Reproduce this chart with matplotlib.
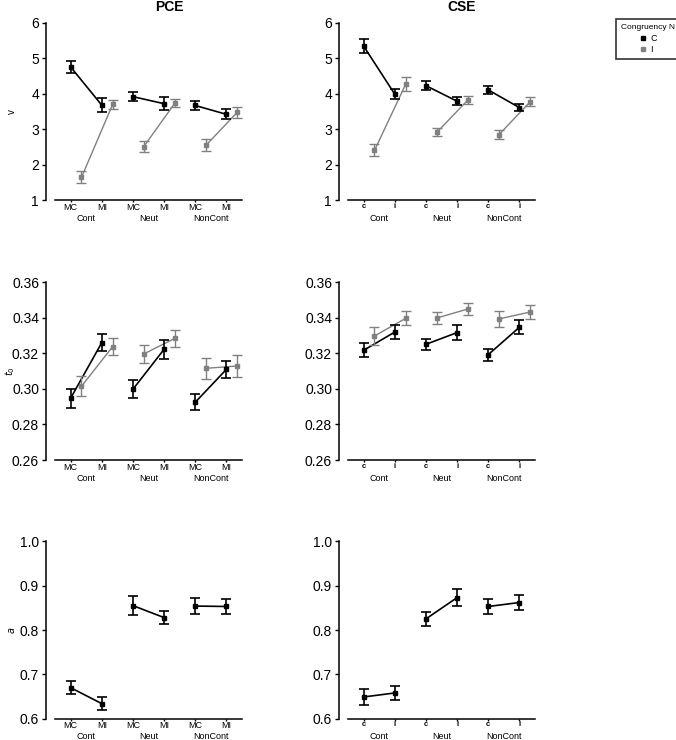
import matplotlib
matplotlib.use('Agg')
from matplotlib import pyplot as plt
from matplotlib.lines import Line2D
from matplotlib.transforms import blended_transform_factory
import numpy as np

plt.rcParams['font.family'] = ['Liberation Sans', 'DejaVu Sans']

groups = ['Cont', 'Neut', 'NonCont']
pce_levels = ['MC', 'MI']
cse_levels = ['c', 'i']
legend_title = 'Congruency N'
legend_labels = ['C', 'I']

# order: Cont-1, Cont-2, Neut-1, Neut-2, NonCont-1, NonCont-2
pce_v_c = [4.76, 3.68, 3.92, 3.72, 3.67, 3.42]
pce_v_c_err = [0.17, 0.20, 0.12, 0.19, 0.12, 0.14]
pce_v_i = [1.64, 3.70, 2.51, 3.74, 2.55, 3.48]
pce_v_i_err = [0.17, 0.13, 0.15, 0.12, 0.17, 0.15]

cse_v_c = [5.35, 3.99, 4.23, 3.79, 4.11, 3.61]
cse_v_c_err = [0.21, 0.14, 0.13, 0.11, 0.12, 0.11]
cse_v_i = [2.40, 4.27, 2.91, 3.83, 2.85, 3.78]
cse_v_i_err = [0.17, 0.20, 0.11, 0.11, 0.12, 0.13]

pce_t0_c = [0.2947, 0.3260, 0.2998, 0.3223, 0.2925, 0.3110]
pce_t0_c_err = [0.0052, 0.0049, 0.0050, 0.0054, 0.0044, 0.0047]
pce_t0_i = [0.3015, 0.3238, 0.3197, 0.3285, 0.3116, 0.3129]
pce_t0_i_err = [0.0057, 0.0046, 0.0050, 0.0049, 0.0060, 0.0060]

cse_t0_c = [0.3217, 0.3320, 0.3251, 0.3317, 0.3193, 0.3347]
cse_t0_c_err = [0.0040, 0.0040, 0.0032, 0.0040, 0.0034, 0.0040]
cse_t0_i = [0.3298, 0.3397, 0.3399, 0.3450, 0.3394, 0.3433]
cse_t0_i_err = [0.0050, 0.0039, 0.0032, 0.0032, 0.0043, 0.0040]

pce_a_c = [0.670, 0.634, 0.855, 0.828, 0.854, 0.853]
pce_a_c_err = [0.014, 0.015, 0.022, 0.015, 0.019, 0.018]
cse_a_c = [0.649, 0.658, 0.825, 0.873, 0.853, 0.862]
cse_a_c_err = [0.017, 0.015, 0.015, 0.020, 0.017, 0.017]

v_ticks = [1, 2, 3, 4, 5, 6]
t0_ticks = [0.26, 0.28, 0.30, 0.32, 0.34, 0.36]
a_ticks = [0.6, 0.7, 0.8, 0.9, 1.0]

W, H = 676, 740
black = '#000000'
grey = '#808080'
grey_offset = 0.35


def px_axes(fig, x0, x1, y0, y1):
    # pixel box (from top-left) -> figure axes
    return fig.add_axes([x0 / W, 1 - y1 / H, (x1 - x0) / W, (y1 - y0) / H])


def draw_series(ax, means, errs, color, dx, ms, lw, cap):
    x = np.arange(len(means)) + dx
    means = np.array(means)
    for g in range(3):
        sl = slice(2 * g, 2 * g + 2)
        ax.plot(x[sl], means[sl], color=color, lw=lw, zorder=2)
    ax.errorbar(x, means, yerr=errs, fmt='s', color=color, ms=ms, lw=lw,
                capsize=cap, capthick=lw, zorder=3)


def style_panel(ax, ticks, fmt, levels, ylabel, bold_levels):
    ax.set_xlim(-0.5, 5.5)
    ax.set_ylim(ticks[0], ticks[-1])
    ax.set_yticks(ticks)
    ax.set_yticklabels([fmt.format(t) for t in ticks], fontsize=6)
    ax.set_xticks(range(6))
    ax.set_xticklabels(levels * 3, fontsize=6.5 if not bold_levels else 5.5,
                       fontweight='bold' if bold_levels else 'normal')
    for s in ['top', 'right']:
        ax.spines[s].set_visible(False)
    ax.spines['left'].set_position(('outward', 6.5))
    ax.spines['left'].set_linewidth(1.1)
    ax.spines['bottom'].set_linewidth(1.1)
    ax.tick_params(axis='y', length=3, width=1, pad=2)
    ax.tick_params(axis='x', length=1.5, width=1, pad=0.5)
    trans = blended_transform_factory(ax.transData, ax.transAxes)
    for g, name in enumerate(groups):
        ax.annotate(name, xy=(2 * g + 0.5, 0), xycoords=trans,
                    xytext=(0, -13), textcoords='offset points',
                    ha='center', va='center', fontsize=6.5)
    if ylabel is not None:
        ax.set_ylabel(ylabel, fontsize=7)
        ax.yaxis.set_label_coords(-0.205, 0.5)


fig = plt.figure(figsize=(W / 100, H / 100), dpi=100)

rows = [(23, 200), (282.3, 460), (541.3, 718.7)]
cols = [(55, 242), (348, 535)]

# row 1: v
ax = px_axes(fig, cols[0][0], cols[0][1], *rows[0])
draw_series(ax, pce_v_c, pce_v_c_err, black, 0, 3.2, 1.2, 3.6)
draw_series(ax, pce_v_i, pce_v_i_err, grey, grey_offset, 2.5, 1.0, 3.6)
style_panel(ax, v_ticks, '{:d}', pce_levels, 'v', False)

ax = px_axes(fig, cols[1][0], cols[1][1], *rows[0])
draw_series(ax, cse_v_c, cse_v_c_err, black, 0, 3.2, 1.2, 3.6)
draw_series(ax, cse_v_i, cse_v_i_err, grey, grey_offset, 2.5, 1.0, 3.6)
style_panel(ax, v_ticks, '{:d}', cse_levels, None, True)

# row 2: t0
ax = px_axes(fig, cols[0][0], cols[0][1], *rows[1])
draw_series(ax, pce_t0_c, pce_t0_c_err, black, 0, 3.2, 1.2, 3.6)
draw_series(ax, pce_t0_i, pce_t0_i_err, grey, grey_offset, 2.5, 1.0, 3.6)
style_panel(ax, t0_ticks, '{:.2f}', pce_levels, '$t_0$', False)

ax = px_axes(fig, cols[1][0], cols[1][1], *rows[1])
draw_series(ax, cse_t0_c, cse_t0_c_err, black, 0, 3.2, 1.2, 3.6)
draw_series(ax, cse_t0_i, cse_t0_i_err, grey, grey_offset, 2.5, 1.0, 3.6)
style_panel(ax, t0_ticks, '{:.2f}', cse_levels, None, True)

# row 3: a
ax = px_axes(fig, cols[0][0], cols[0][1], *rows[2])
draw_series(ax, pce_a_c, pce_a_c_err, black, 0, 3.2, 1.2, 3.6)
style_panel(ax, a_ticks, '{:.1f}', pce_levels, '$a$', False)

ax = px_axes(fig, cols[1][0], cols[1][1], *rows[2])
draw_series(ax, cse_a_c, cse_a_c_err, black, 0, 3.2, 1.2, 3.6)
style_panel(ax, a_ticks, '{:.1f}', cse_levels, None, True)

fig.text(169 / W, 1 - 7 / H, 'PCE', ha='center', va='center',
         fontsize=10, fontweight='bold')
fig.text(462 / W, 1 - 7 / H, 'CSE', ha='center', va='center',
         fontsize=10, fontweight='bold')

handles = [Line2D([], [], marker='s', ls='none', color=black, ms=3),
           Line2D([], [], marker='s', ls='none', color=grey, ms=3)]
leg = fig.legend(handles, legend_labels, title=legend_title,
                 loc='upper left', bbox_to_anchor=(616 / W, 1 - 19 / H),
                 fontsize=6.5, title_fontsize=6, frameon=True, fancybox=False,
                 edgecolor='black', handlelength=0.8, handletextpad=0.4,
                 borderpad=0.55, labelspacing=0.3, borderaxespad=0)
leg.get_frame().set_linewidth(1.2)

fig.savefig('out.png', dpi=100)
